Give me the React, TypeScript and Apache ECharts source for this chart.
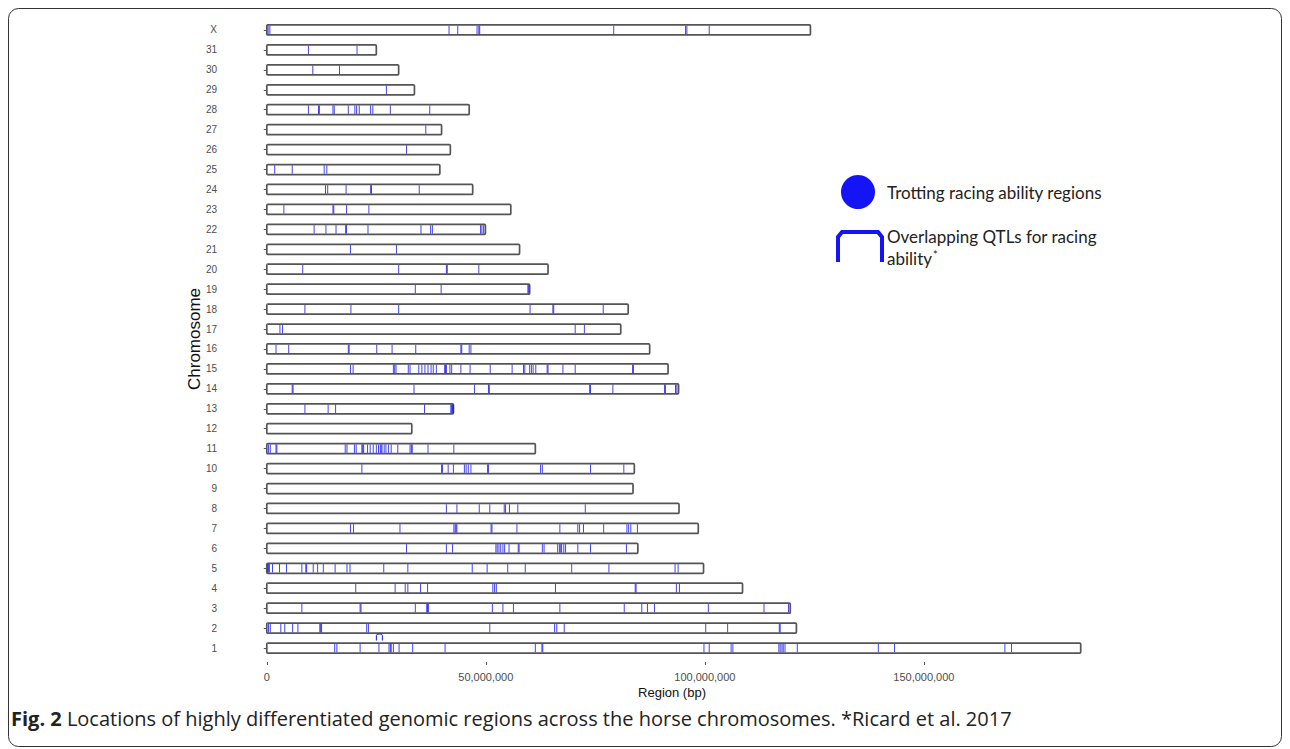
import React, { useEffect, useRef } from "react";
import * as echarts from "echarts";

// Chromosome names (bottom to top) and lengths in Mb
const chromosomes = ["1","2","3","4","5","6","7","8","9","10","11","12","13","14","15","16","17","18","19","20","21","22","23","24","25","26","27","28","29","30","31","X"];
const lengthsMb = [185.8, 120.9, 119.5, 108.6, 99.7, 84.7, 98.5, 94.1, 83.6, 83.9, 61.3, 33.1, 42.6, 94.0, 91.6, 87.4, 80.8, 82.5, 60.0, 64.2, 57.7, 49.9, 55.7, 47.0, 39.5, 41.9, 39.9, 46.2, 33.7, 30.1, 25.0, 124.1];

// Highly differentiated regions (Mb) per chromosome
const chr1Hits = [15.5, 16.0, 21.3, 25.6, 27.9, 28.2, 28.4, 28.9, 30.2, 33.3, 40.7, 61.3, 62.8, 63.0, 99.8, 101.0, 106.0, 106.4, 116.9, 117.2, 117.6, 117.9, 118.3, 121.1, 139.6, 143.3, 168.5, 170.0];
const chr2Hits = [0.4, 0.8, 3.2, 4.1, 5.9, 7.1, 12.1, 12.3, 12.5, 22.8, 23.2, 50.9, 65.7, 66.2, 67.9, 100.2, 105.2, 117.0, 117.2];
const chr3Hits = [8.0, 21.3, 21.5, 33.9, 36.5, 36.7, 36.9, 51.5, 53.9, 56.3, 66.9, 81.6, 85.6, 86.9, 88.5, 100.8, 113.5, 119.1];
const chr4Hits = [20.3, 29.3, 31.6, 32.2, 35.1, 36.7, 51.6, 52.0, 52.4, 65.9, 84.1, 84.3, 93.5, 94.2];
const chr5Hits = [0.2, 0.4, 0.6, 1.3, 2.9, 4.5, 8.0, 8.9, 9.1, 10.6, 11.6, 12.9, 15.6, 18.3, 19.0, 26.7, 32.2, 46.9, 50.3, 55.0, 59.0, 69.6, 78.1, 93.2, 93.9];
const chr6Hits = [31.9, 41.0, 42.4, 52.3, 52.6, 53.0, 53.4, 53.9, 54.3, 55.3, 57.4, 57.6, 62.9, 63.3, 66.4, 66.8, 67.1, 67.3, 67.8, 68.2, 71.0, 73.9, 82.1];
const chr7Hits = [19.1, 19.8, 30.4, 42.7, 43.0, 43.2, 43.4, 51.2, 51.4, 57.1, 66.9, 71.0, 71.4, 72.3, 76.9, 82.2, 82.6, 83.1, 84.6];
const chr8Hits = [41.0, 43.4, 48.5, 50.9, 54.2, 54.5, 55.4, 57.3, 72.7];
const chr9Hits: number[] = [];
const chr10Hits = [21.7, 39.9, 40.1, 41.4, 42.6, 45.1, 45.5, 46.0, 46.6, 50.4, 50.6, 62.5, 62.9, 73.9, 81.5];
const chr11Hits = [0.4, 0.8, 2.1, 2.3, 17.9, 18.3, 20.0, 20.4, 21.7, 21.9, 22.1, 23.0, 23.6, 24.3, 25.0, 25.5, 25.9, 26.1, 26.3, 26.8, 27.2, 27.8, 28.4, 29.9, 32.7, 33.0, 33.2, 36.8, 42.7];
const chr12Hits: number[] = [];
const chr13Hits = [8.7, 14.0, 15.7, 36.0, 42.0, 42.2, 42.4, 42.6];
const chr14Hits = [5.8, 6.0, 33.6, 47.4, 50.6, 50.8, 73.7, 73.9, 79.0, 90.8, 91.0, 93.3, 93.6];
const chr15Hits = [19.1, 19.7, 28.9, 29.2, 29.5, 32.3, 32.7, 34.7, 35.4, 36.1, 36.8, 37.5, 38.0, 38.7, 40.6, 40.8, 41.0, 41.8, 42.2, 44.3, 46.4, 51.0, 56.0, 58.6, 58.9, 60.0, 60.4, 60.8, 61.4, 64.0, 64.2, 67.6, 70.4, 83.5, 83.7];
const chr16Hits = [2.1, 5.0, 18.6, 18.8, 25.1, 28.6, 34.0, 44.3, 44.5, 46.2, 46.6];
const chr17Hits = [3.0, 3.6, 70.4, 72.5];
const chr18Hits = [8.7, 19.2, 30.1, 60.1, 65.3, 65.5, 76.8];
const chr19Hits = [33.9, 39.8, 59.6, 59.8];
const chr20Hits = [8.2, 30.1, 41.0, 41.2, 48.4];
const chr21Hits = [19.1, 29.6];
const chr22Hits = [10.8, 13.5, 15.8, 18.0, 18.2, 23.1, 35.2, 37.4, 37.8, 48.8, 49.1, 49.5];
const chr23Hits = [3.9, 15.1, 15.3, 18.2, 23.3];
const chr24Hits = [13.4, 13.9, 18.1, 23.7, 23.9, 34.8];
const chr25Hits = [1.8, 5.8, 13.1, 13.7];
const chr26Hits = [31.9];
const chr27Hits = [36.3];
const chr28Hits = [9.5, 11.8, 12.0, 15.1, 15.4, 18.6, 20.1, 20.5, 21.1, 23.7, 24.2, 28.2, 37.2];
const chr29Hits = [27.3];
const chr30Hits = [10.5, 16.6];
const chr31Hits = [9.5, 20.6];
const chrXHits = [0.3, 0.7, 41.6, 43.6, 48.0, 48.4, 48.6, 79.2, 95.6, 95.9, 101.0];

// Overlapping QTL for racing ability (chromosome, Mb)
const qtlChromosomes = ["1"];
const qtlPositionsMb = [25.7];

const xTickValues = [0, 50000000, 100000000, 150000000];

const hitsByChromosome = [chr1Hits, chr2Hits, chr3Hits, chr4Hits, chr5Hits, chr6Hits, chr7Hits, chr8Hits, chr9Hits, chr10Hits, chr11Hits, chr12Hits, chr13Hits, chr14Hits, chr15Hits, chr16Hits, chr17Hits, chr18Hits, chr19Hits, chr20Hits, chr21Hits, chr22Hits, chr23Hits, chr24Hits, chr25Hits, chr26Hits, chr27Hits, chr28Hits, chr29Hits, chr30Hits, chr31Hits, chrXHits];

const BLUE = "#1414f0";
const AXIS_FONT = "'Liberation Sans', Arial, sans-serif";
const LEGEND_FONT = "Lato, 'Open Sans', sans-serif";

export default function App() {
  const ref = useRef<HTMLDivElement>(null);

  useEffect(() => {
    if (!ref.current) return;
    const chart = echarts.init(ref.current, null, { renderer: "svg" });

    const barData = chromosomes.map((c, i) => [lengthsMb[i] * 1e6, i]);
    const hitData: number[][] = [];
    hitsByChromosome.forEach((arr, i) => arr.forEach((p) => hitData.push([p * 1e6, i])));
    const qtlData = qtlChromosomes.map((c, k) => [qtlPositionsMb[k] * 1e6, chromosomes.indexOf(c)]);

    const fmt = (v: number) => v.toLocaleString("en-US");

    chart.setOption({
      animation: false,
      backgroundColor: "#ffffff",
      grid: { left: 223, right: 169, top: 20, bottom: 91 },
      xAxis: {
        type: "value",
        min: -10000000,
        max: 195000000,
        offset: 4,
        splitLine: { show: false },
        axisLine: { show: false },
        axisTick: { show: true, length: 3, lineStyle: { color: "#555" }, customValues: xTickValues },
        axisLabel: {
          customValues: xTickValues,
          formatter: (v: number) => fmt(v),
          fontSize: 11,
          color: "#4d4d4d",
          fontFamily: AXIS_FONT,
          margin: 9,
        },
        name: "Region (bp)",
        nameLocation: "middle",
        nameGap: 24,
        nameMoveOverlap: false,
        nameTextStyle: { fontSize: 13, color: "#111", fontFamily: AXIS_FONT },
      },
      yAxis: {
        type: "category",
        data: chromosomes,
        boundaryGap: true,
        axisLine: { show: false },
        axisTick: { show: true, length: 3, alignWithLabel: true, lineStyle: { color: "#555" } },
        axisLabel: { fontSize: 10, color: "#4d4d4d", fontFamily: AXIS_FONT, margin: 6 },
        splitLine: { show: false },
        name: "Chromosome",
        nameLocation: "middle",
        nameRotate: 90,
        nameGap: 20,
        nameMoveOverlap: false,
        nameTextStyle: { fontSize: 17, color: "#111", fontFamily: AXIS_FONT },
      },
      series: [
        {
          type: "custom",
          name: "Chromosomes",
          encode: { x: 0, y: 1 },
          data: barData,
          renderItem: (params: any, api: any) => {
            const s = api.coord([0, api.value(1)]);
            const e = api.coord([api.value(0), api.value(1)]);
            return {
              type: "rect",
              shape: { x: s[0], y: s[1] - 5, width: e[0] - s[0], height: 10, r: 1 },
              style: { fill: "#ffffff", stroke: "#555555", lineWidth: 1.7 },
            };
          },
        },
        {
          type: "custom",
          name: "Trotting racing ability regions",
          encode: { x: 0, y: 1 },
          data: hitData,
          renderItem: (params: any, api: any) => {
            const p = api.coord([api.value(0), api.value(1)]);
            return {
              type: "line",
              shape: { x1: p[0], y1: p[1] - 4.2, x2: p[0], y2: p[1] + 4.2 },
              style: { stroke: BLUE, lineWidth: 1, opacity: 0.8 },
            };
          },
        },
        {
          type: "custom",
          name: "Overlapping QTLs for racing ability",
          encode: { x: 0, y: 1 },
          data: qtlData,
          renderItem: (params: any, api: any) => {
            const p = api.coord([api.value(0), api.value(1)]);
            const x = p[0];
            const y = p[1] - 11;
            return {
              type: "polyline",
              shape: { points: [[x - 3, y + 3.5], [x - 3, y - 1.5], [x - 2, y - 3], [x + 2, y - 3], [x + 3, y - 1.5], [x + 3, y + 3.5]] },
              style: { stroke: BLUE, lineWidth: 1, fill: null },
            };
          },
        },
      ],
      graphic: [
        {
          type: "rect",
          shape: { x: 8.5, y: 8.5, width: 1273, height: 738, r: 10 },
          style: { fill: null, stroke: "#333", lineWidth: 1 },
          silent: true,
        },
        {
          type: "circle",
          shape: { cx: 858, cy: 192, r: 17 },
          style: { fill: "#1414f5" },
        },
        {
          type: "text",
          x: 887,
          y: 192,
          style: { text: "Trotting racing ability regions", fontSize: 17, fontFamily: LEGEND_FONT, fill: "#222", verticalAlign: "middle" },
        },
        {
          type: "polyline",
          shape: { points: [[838, 262], [838, 237], [842, 232], [878, 232], [882, 237], [882, 262]] },
          style: { stroke: "#1414f5", lineWidth: 4, fill: null },
        },
        {
          type: "text",
          x: 887,
          y: 236,
          style: { text: "Overlapping QTLs for racing", fontSize: 17, fontFamily: LEGEND_FONT, fill: "#222", verticalAlign: "middle" },
        },
        {
          type: "text",
          x: 887,
          y: 258,
          style: {
            text: "ability{s|*}",
            fontSize: 17,
            fontFamily: LEGEND_FONT,
            fill: "#222",
            verticalAlign: "middle",
            rich: { s: { fontSize: 11, verticalAlign: "top", padding: [0, 0, 8, 1], fontFamily: LEGEND_FONT, fill: "#222" } },
          },
        },
        {
          type: "text",
          x: 11,
          y: 718,
          style: {
            text: "{b|Fig. 2} Locations of highly differentiated genomic regions across the horse chromosomes. *Ricard et al. 2017",
            fontSize: 20,
            fontFamily: "'Open Sans', 'Noto Sans', sans-serif",
            fill: "#222",
            verticalAlign: "middle",
            rich: { b: { fontSize: 20, fontWeight: "bold", fontFamily: "'Open Sans', 'Noto Sans', sans-serif", fill: "#222" } },
          },
        },
      ],
    });

    return () => chart.dispose();
  }, []);

  return <div ref={ref} style={{ position: "fixed", left: 0, top: 0, width: 1290, height: 749 }} />;
}
